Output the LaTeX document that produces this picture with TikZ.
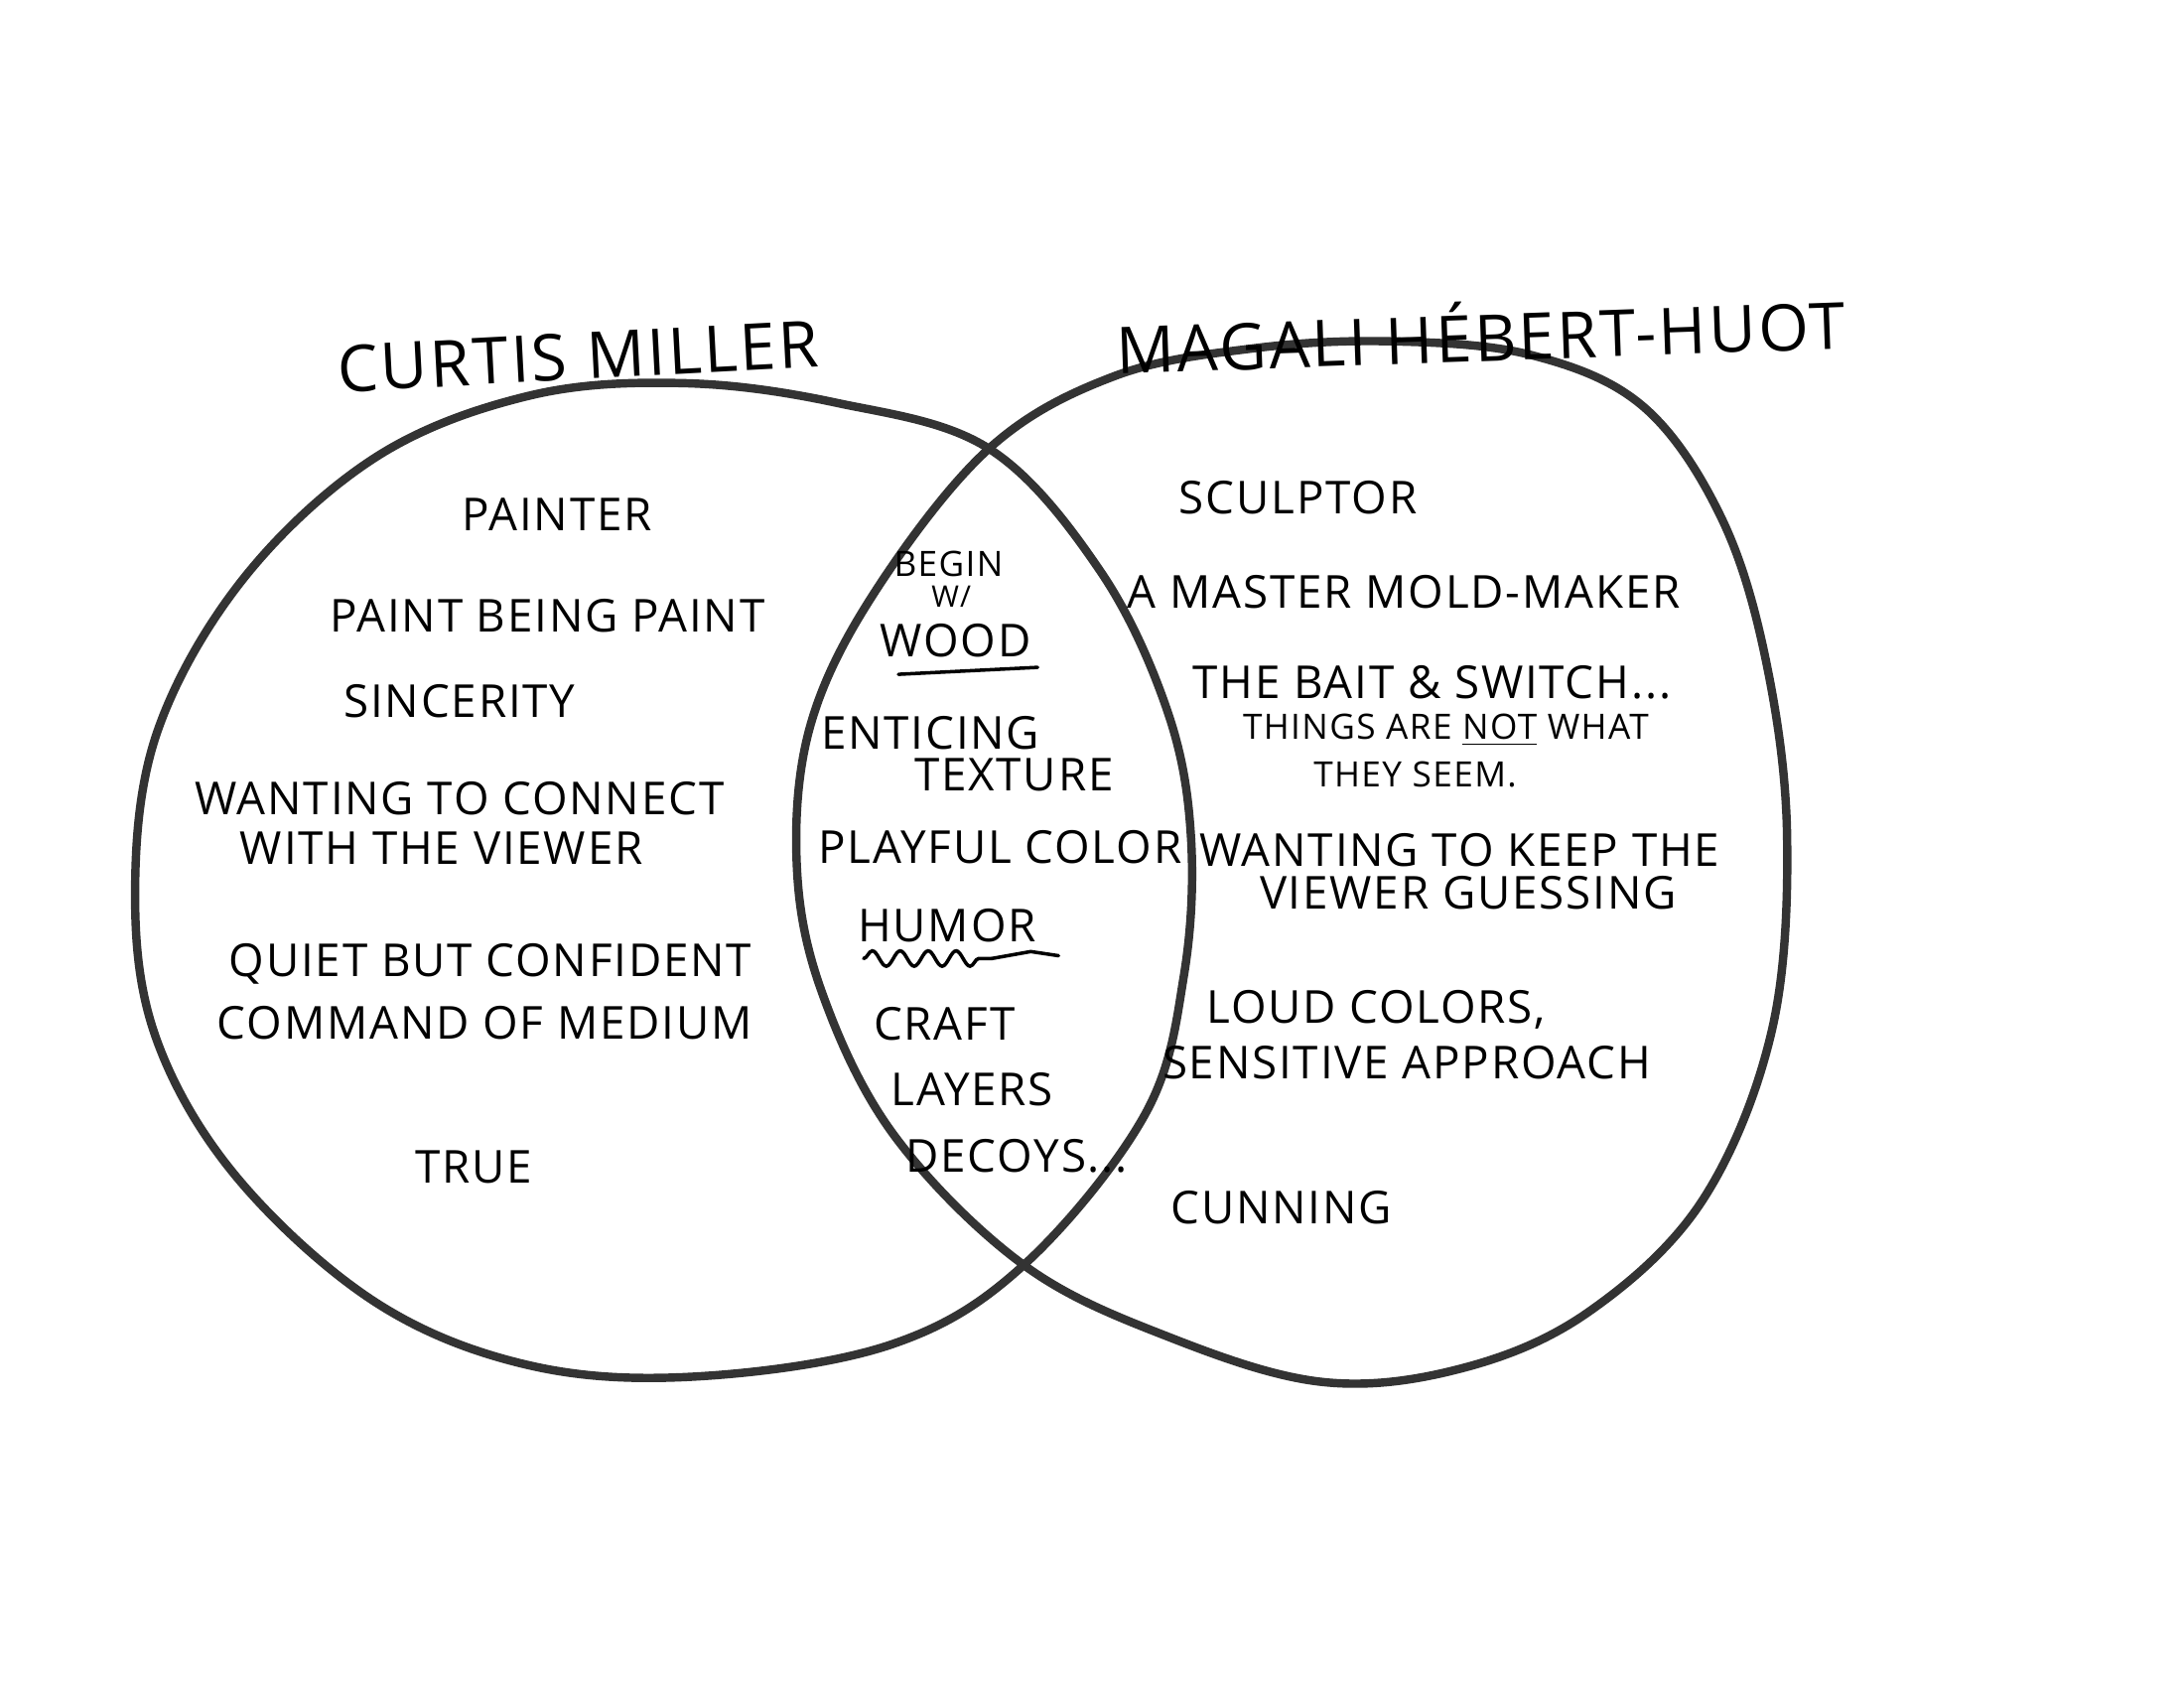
\documentclass[tikz,border=0pt]{standalone}
\usepackage{fontspec}
\setmainfont{Open Sans}[LetterSpace=4]
\usetikzlibrary{decorations.pathmorphing}
\tikzset{
  ring/.style={draw=black!80, line width=2.4pt, line join=round},
  lbl/.style={font=\fontsize{13}{15}\selectfont, text=black, inner sep=0.5pt, align=center},
  smalltxt/.style={font=\fontsize{10}{12}\selectfont, text=black, inner sep=0.5pt, align=center},
  tinytxt/.style={font=\fontsize{8.5}{10}\selectfont, text=black, inner sep=0.5pt},
  whoname/.style={font=\fontsize{18.5}{22}\selectfont, text=black, inner sep=1pt},
  uline/.style={draw=black, line width=1pt, line cap=round}
}
\begin{document}
\begin{tikzpicture}[x=0.01403cm, y=-0.01403cm]
\useasboundingbox[fill=white] (0,0) rectangle (1568,1212);
% left circle
\draw[ring] plot[smooth cycle, tension=0.6] coordinates {
 (490,275) (600,289) (710,322) (790,410) (838,510) (855,600) (850,700)
 (822,800) (735,908) (640,965) (500,988) (380,980) (270,935) (170,845)
 (112,745) (97,640) (113,525) (175,415) (270,328) (380,284)};
% right circle
\draw[ring] plot[smooth cycle, tension=0.6] coordinates {
 (1000,245) (1100,255) (1180,292) (1236,372) (1268,475) (1283,600) (1272,740)
 (1222,862) (1140,942) (1050,982) (950,992) (840,960) (735,908)
 (642,815) (590,712) (572,620) (582,520) (628,425) (710,322) (800,270) (900,250)};

% names
\node[whoname, rotate=3] (cm) at (415,256) {CURTIS MILLER};
\node[whoname, rotate=2] (mh) at (1063,238) {MAGALI HÉBERT-HUOT};

% left
\node[lbl] (painter) at (400,369) {PAINTER};
\node[lbl] (pbp) at (393,442) {PAINT BEING PAINT};
\node[lbl] (sinc) at (330,503) {SINCERITY};
\node[lbl] (want1) at (330,573) {WANTING TO CONNECT};
\node[lbl] (want2) at (317,609) {WITH THE VIEWER};
\node[lbl] (quiet1) at (352,692) {QUIET BUT CONFIDENT};
\node[lbl] (quiet2) at (348,734) {COMMAND OF MEDIUM};
\node[lbl] (true) at (340,838) {TRUE};

% middle
\node[smalltxt] (begin) at (681,405) {BEGIN};
\node[tinytxt] (w) at (683,428) {W/};
\node[lbl] (wood) at (686,460) {WOOD};
\coordinate (wu1) at (645,484);
\coordinate (wu2) at (745,479);
\draw[uline] (wu1) -- (wu2);
\node[lbl] (ent) at (668,526) {ENTICING};
\node[lbl] (tex) at (728,556) {TEXTURE};
\node[lbl] (play) at (718,608) {PLAYFUL COLOR};
\node[lbl] (humor) at (680,664) {HUMOR};
\coordinate (hu1) at (620,688);
\coordinate (hu2) at (712,688);
\draw[uline, decorate, decoration={snake, amplitude=2.2pt, segment length=8pt}] (hu1) -- (hu2);
\coordinate (hu3) at (740,683);
\coordinate (hu4) at (760,686);
\draw[uline] (hu2) -- (hu3) -- (hu4);
\node[lbl] (craft) at (678,735) {CRAFT};
\node[lbl] (layers) at (698,782) {LAYERS};
\node[lbl] (decoys) at (730,830) {DECOYS...};

% right
\node[lbl] (sculp) at (932,357) {SCULPTOR};
\node[lbl] (mold) at (1008,425) {A MASTER MOLD-MAKER};
\node[lbl] (bait) at (1028,490) {THE BAIT \& SWITCH...};
\node[smalltxt] (things) at (1038,524) {THINGS ARE \underline{NOT} WHAT};
\node[smalltxt] (seem) at (1016,556) {THEY SEEM.};
\node[lbl] (keep1) at (1048,610) {WANTING TO KEEP THE};
\node[lbl] (keep2) at (1054,641) {VIEWER GUESSING};
\node[lbl] (loud1) at (988,725) {LOUD COLORS,};
\node[lbl] (loud2) at (1010,763) {SENSITIVE APPROACH};
\node[lbl] (cun) at (920,867) {CUNNING};
\end{tikzpicture}
\end{document}
